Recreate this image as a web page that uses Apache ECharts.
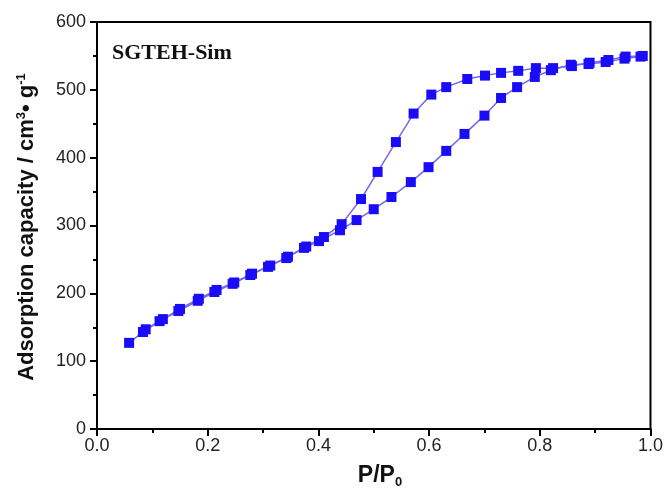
<!DOCTYPE html>
<html>
<head>
<meta charset="utf-8">
<script src="https://cdn.jsdelivr.net/npm/echarts@6/dist/echarts.min.js"></script>
<style>
  html, body { margin: 0; padding: 0; background: #fff; }
  #chart { width: 666px; height: 493px; }
</style>
</head>
<body>
<div id="chart"></div>
<script>
// Nitrogen isotherm of SGTEH-Sim: adsorption and desorption branches
const adsP = [0.058, 0.083, 0.113, 0.147, 0.182, 0.212, 0.245, 0.277, 0.309, 0.342,
  0.374, 0.401, 0.439, 0.469, 0.500, 0.532, 0.567, 0.599, 0.631, 0.664,
  0.700, 0.730, 0.759, 0.791, 0.820, 0.856, 0.888, 0.919, 0.953, 0.982];
const adsV = [127, 143, 159, 174, 189, 202, 214, 227, 239, 252,
  267, 277, 293, 308, 324, 342, 364, 386, 410, 435,
  462, 488, 504, 519, 529, 537, 538, 541, 546, 549];

const desP = [0.986, 0.955, 0.924, 0.890, 0.858, 0.824, 0.793, 0.761, 0.730, 0.701,
  0.669, 0.631, 0.604, 0.572, 0.540, 0.507, 0.477, 0.442, 0.410, 0.378,
  0.345, 0.313, 0.280, 0.248, 0.216, 0.184, 0.150, 0.119, 0.088];
const desV = [550, 549, 544, 540, 535, 532, 532, 528, 525, 521,
  516, 504, 493, 465, 423, 379, 339, 302, 283, 269,
  254, 241, 229, 216, 205, 192, 177, 162, 147];

const xTicks = [0, 0.2, 0.4, 0.6, 0.8, 1.0];
const yTicks = [0, 100, 200, 300, 400, 500, 600];

const pairs = (xs, ys) => xs.map((x, i) => [x, ys[i]]);

const markerColor = '#1a0cf8';
const lineColor = '#7468e6';
const sans = '"Liberation Sans", Arial, sans-serif';

const chart = echarts.init(document.getElementById('chart'));
chart.setOption({
  animation: false,
  backgroundColor: '#fff',
  grid: {
    left: 97, right: 14, top: 22, bottom: 64,
    show: true, borderColor: '#000', borderWidth: 2, backgroundColor: 'transparent'
  },
  xAxis: {
    type: 'value',
    min: xTicks[0], max: xTicks[xTicks.length - 1], interval: 0.2,
    axisLine: { show: true, lineStyle: { color: '#000', width: 2 } },
    axisTick: { show: true, inside: false, length: 7, lineStyle: { color: '#000', width: 2 } },
    minorTick: { show: true, splitNumber: 2, length: 4, lineStyle: { color: '#000', width: 2 } },
    splitLine: { show: false },
    axisLabel: {
      color: '#222', fontFamily: sans, fontSize: 18, margin: 8,
      formatter: v => v.toFixed(1)
    }
  },
  yAxis: {
    type: 'value',
    min: yTicks[0], max: yTicks[yTicks.length - 1], interval: 100,
    axisLine: { show: true, lineStyle: { color: '#000', width: 2 } },
    axisTick: { show: true, inside: false, length: 7, lineStyle: { color: '#000', width: 2 } },
    minorTick: { show: true, splitNumber: 2, length: 4, lineStyle: { color: '#000', width: 2 } },
    splitLine: { show: false },
    axisLabel: {
      color: '#222', fontFamily: sans, fontSize: 18, margin: 11
    }
  },
  graphic: [
    {
      type: 'text', left: 112, top: 42,
      style: {
        text: 'SGTEH-Sim', fill: '#111',
        font: 'bold 22px "Liberation Serif", "Times New Roman", serif'
      }
    },
    {
      type: 'text', x: 27, y: 227, rotation: Math.PI / 2,
      style: {
        text: 'Adsorption capacity / cm{sup|3}\u2022 g{sup|-1}',
        align: 'center', verticalAlign: 'middle',
        fill: '#111',
        font: 'bold 22px ' + sans,
        rich: {
          sup: { fontSize: 13, fontWeight: 'bold', fontFamily: sans,
                 fill: '#111', padding: [0, 0, 11, 0] }
        }
      }
    },
    {
      type: 'text', x: 380, y: 476,
      style: {
        text: 'P/P{sub|0}',
        align: 'center', verticalAlign: 'middle',
        fill: '#111',
        font: 'bold 23px ' + sans,
        rich: {
          sub: { fontSize: 13, fontWeight: 'bold', fontFamily: sans,
                 fill: '#111', padding: [13, 0, 0, 0] }
        }
      }
    }
  ],
  series: [
    {
      name: 'Adsorption', type: 'line', data: pairs(adsP, adsV),
      symbol: 'rect', symbolSize: 10, showAllSymbol: true,
      lineStyle: { color: lineColor, width: 1.5 },
      itemStyle: { color: markerColor }
    },
    {
      name: 'Desorption', type: 'line', data: pairs(desP, desV),
      symbol: 'rect', symbolSize: 10, showAllSymbol: true,
      lineStyle: { color: lineColor, width: 1.5 },
      itemStyle: { color: markerColor }
    }
  ]
});
</script>
</body>
</html>
